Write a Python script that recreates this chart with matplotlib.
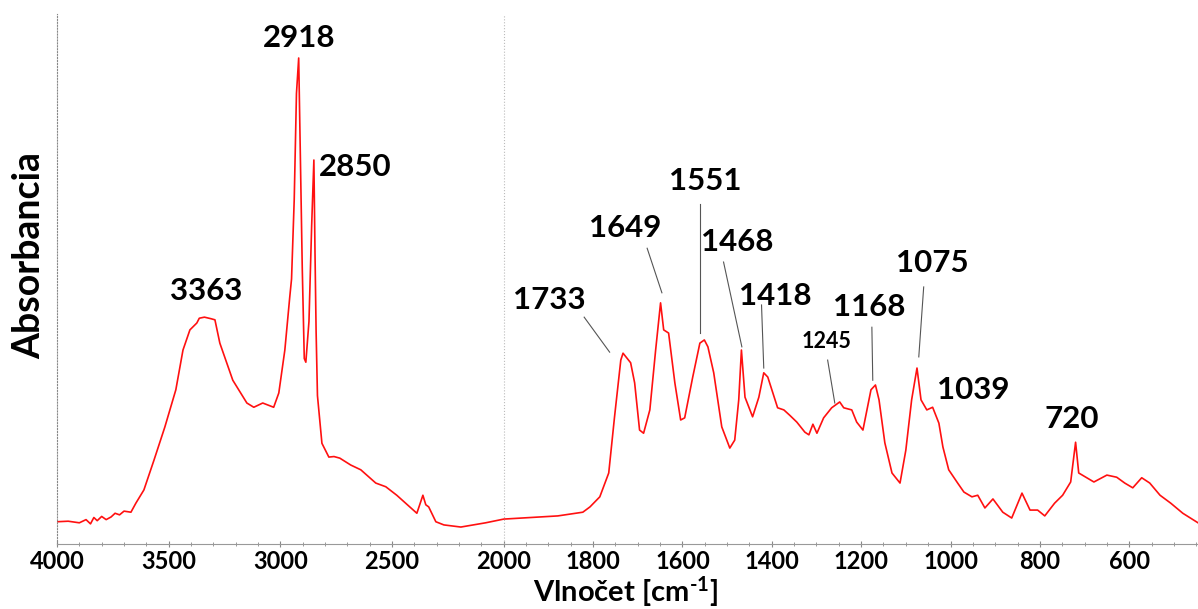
import numpy as np
import matplotlib
matplotlib.use("Agg")
import matplotlib.pyplot as plt
from matplotlib.ticker import FixedLocator

plt.rcParams['font.family'] = ['Lato', 'DejaVu Sans']
plt.rcParams['font.weight'] = 'bold'
plt.rcParams['mathtext.fontset'] = 'custom'
plt.rcParams['mathtext.rm'] = 'Lato:bold'
plt.rcParams['mathtext.default'] = 'rm'

# spectrum (wavenumber in cm-1, absorbance in arbitrary units)
wavenumber = [4000, 3950, 3900, 3870, 3850, 3835, 3820, 3800, 3780, 3758, 3740, 3720, 3700,
              3669, 3647, 3611, 3566, 3517, 3468, 3436, 3405, 3374, 3363, 3340, 3310, 3293,
              3271, 3213, 3150, 3119, 3079, 3030, 3007, 2980, 2958, 2950, 2938, 2928, 2918,
              2910, 2902, 2893, 2886, 2872, 2860, 2850, 2845, 2840, 2834, 2814, 2783, 2760, 2734,
              2685, 2640, 2573, 2528, 2479, 2389, 2362, 2349, 2336, 2304, 2268, 2192, 2081,
              2000, 1919, 1879, 1823, 1807, 1785, 1765, 1752, 1738, 1733, 1716, 1707, 1696,
              1687, 1673, 1660, 1649, 1642, 1631, 1617, 1604, 1595, 1577, 1561, 1551, 1543,
              1530, 1512, 1494, 1483, 1474, 1468, 1460, 1443, 1429, 1418, 1409, 1400, 1387,
              1373, 1360, 1344, 1326, 1317, 1308, 1299, 1284, 1266, 1248, 1239, 1221, 1210,
              1196, 1178, 1168, 1160, 1147, 1131, 1113, 1100, 1087, 1075, 1066, 1053, 1040,
              1026, 1017, 1004, 984, 970, 952, 939, 923, 905, 883, 863, 840, 822, 805, 789,
              767, 749, 731, 720, 713, 697, 679, 650, 628, 610, 592, 572, 554, 531, 507, 480,
              446]
absorbance = [0.042, 0.043, 0.040, 0.046, 0.038, 0.050, 0.044, 0.052, 0.046, 0.051, 0.058, 0.055, 0.062,
              0.060, 0.077, 0.102, 0.158, 0.221, 0.291, 0.366, 0.404, 0.417, 0.426, 0.428, 0.425, 0.423,
              0.379, 0.309, 0.266, 0.258, 0.266, 0.258, 0.285, 0.366, 0.466, 0.50, 0.65, 0.85, 0.917,
              0.72, 0.52, 0.35, 0.343, 0.42, 0.60, 0.7245, 0.55, 0.40, 0.28, 0.19, 0.164, 0.165, 0.162,
              0.149, 0.14, 0.115, 0.108, 0.092, 0.058, 0.092, 0.074, 0.070, 0.042, 0.036, 0.032, 0.040,
              0.047, 0.051, 0.053, 0.060, 0.070, 0.089, 0.134, 0.240, 0.347, 0.360, 0.342, 0.304, 0.215,
              0.209, 0.253, 0.366, 0.455, 0.404, 0.398, 0.304, 0.234, 0.238, 0.315, 0.379, 0.385, 0.372,
              0.323, 0.221, 0.181, 0.196, 0.272, 0.366, 0.277, 0.240, 0.277, 0.323, 0.315, 0.291, 0.257,
              0.253, 0.243, 0.230, 0.211, 0.206, 0.226, 0.209, 0.238, 0.257, 0.268, 0.257, 0.253, 0.230,
              0.215, 0.291, 0.300, 0.272, 0.191, 0.134, 0.115, 0.177, 0.272, 0.332, 0.272, 0.253, 0.258,
              0.228, 0.183, 0.140, 0.115, 0.098, 0.089, 0.092, 0.068, 0.085, 0.060, 0.049, 0.096, 0.064, 0.064, 0.053,
              0.077, 0.092, 0.117, 0.192, 0.134, 0.126, 0.117, 0.130, 0.126, 0.115, 0.106, 0.125, 0.115, 0.092, 0.077, 0.058,
              0.040]

# peak labels: text, text position (wn, abs), font size, leader line (wn0, a0, wn1, a1) or None
peak_labels = ["2918", "2850", "3363", "1733", "1649", "1551", "1468", "1418", "1245", "1168", "1075", "1039", "720"]
label_pos = [(2918, 0.955), (2826, 0.711), (3333, 0.477), (1897, 0.460), (1729, 0.596), (1548, 0.685),
             (1478, 0.570), (1393, 0.468), (1277, 0.383), (1181, 0.447), (1040, 0.530), (948, 0.291), (729, 0.236)]
label_ha = ["center", "left", "center", "center", "center", "center", "center", "center", "center",
            "center", "center", "center", "center"]
label_size = [22.5, 22.5, 22.5, 22.5, 22.5, 22.5, 22.5, 22.5, 15.5, 22.5, 22.5, 22.5, 22.5]
leaders = [None, None, None,
           (1820, 0.428, 1763, 0.362), (1679, 0.558, 1646, 0.474), (1561, 0.642, 1561, 0.398),
           (1508, 0.532, 1467, 0.372), (1423, 0.451, 1418, 0.332), (1275, 0.347, 1259, 0.266),
           (1176, 0.409, 1174, 0.309), (1060, 0.485, 1071, 0.353), None, None]

major_ticks = [4000, 3500, 3000, 2500, 2000, 1800, 1600, 1400, 1200, 1000, 800, 600]


def fwd(w):
    # scale change at 2000 cm-1: the low wavenumber part is stretched 2x
    w = np.asarray(w, dtype=float)
    return np.where(w >= 2000, w, 2 * w - 2000)


def inv(f):
    f = np.asarray(f, dtype=float)
    return np.where(f >= 2000, f, (f + 2000) / 2)


fig = plt.figure(figsize=(11.98, 6.09), dpi=100)
ax = fig.add_axes([57 / 1198, 65 / 609, 1 - 57 / 1198, 530 / 609])
ax.set_xscale('function', functions=(fwd, inv))

ax.plot(wavenumber, absorbance, color='#ff1010', lw=1.2)
ax.axvline(2000, color='#bbbbbb', lw=0.8, ls=':')

for txt, (x, y), ha, fs, ld in zip(peak_labels, label_pos, label_ha, label_size, leaders):
    ax.text(x, y, txt, ha=ha, va='center', fontsize=fs, fontweight='bold')
    if ld is not None:
        ax.plot([ld[0], ld[2]], [ld[1], ld[3]], color='#555555', lw=0.8)

ax.set_xlim(4000, 446)
ax.set_ylim(0, 1)

minor = list(range(3900, 2000, -100)) + list(range(1950, 440, -50))
ax.xaxis.set_major_locator(FixedLocator(major_ticks))
ax.xaxis.set_minor_locator(FixedLocator(minor))
ax.set_xticklabels([str(t) for t in major_ticks], fontsize=17, fontweight='bold')
ax.tick_params(axis='x', which='major', length=4, width=0.8, color='#888888', direction='inout', pad=2)
ax.tick_params(axis='x', which='minor', length=3, width=0.6, color='#888888', direction='inout')
ax.set_yticks([])

for s in ['top', 'right']:
    ax.spines[s].set_visible(False)
ax.spines['bottom'].set_color('#999999')
ax.spines['left'].set_color('#888888')
ax.spines['left'].set_linestyle(':')

ax.set_xlabel(r'Vlnočet [cm$^{\text{-}1}$]', fontsize=21, fontweight='bold')
ax.xaxis.label.set_va('baseline')
ax.xaxis.set_label_coords(0.4987, -0.1094)
ax.set_ylabel('Absorbancia', fontsize=27, fontweight='bold')
ax.yaxis.label.set_va('center')
ax.yaxis.set_label_coords(-0.0245, 0.545)

fig.savefig('out.png', dpi=100)
